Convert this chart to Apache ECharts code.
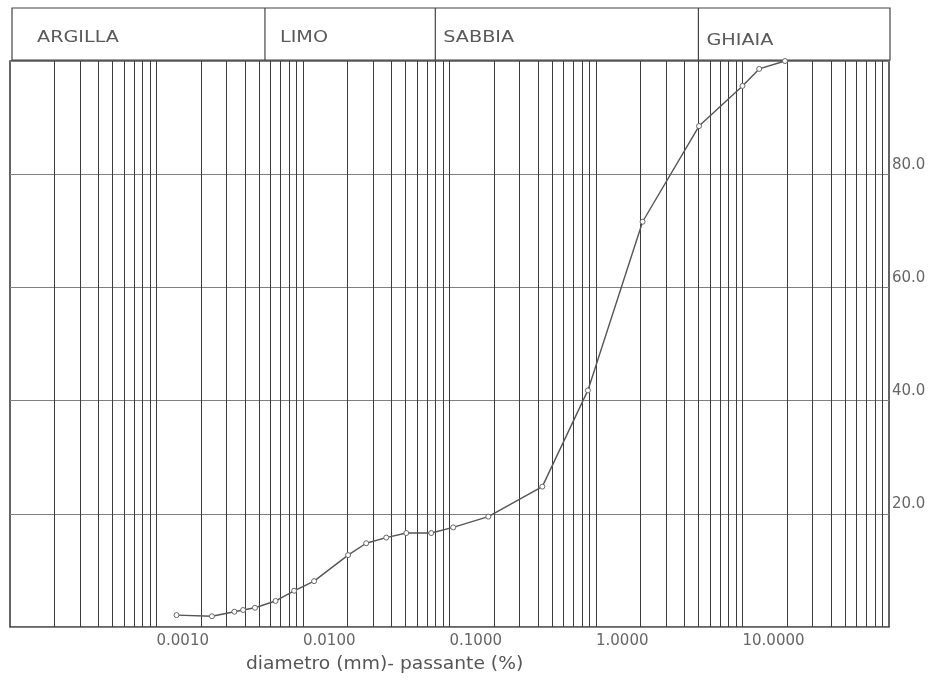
<!DOCTYPE html>
<html><head><meta charset="utf-8">
<script src="https://cdn.jsdelivr.net/npm/echarts@6/dist/echarts.min.js"></script>
<style>html,body{margin:0;padding:0;background:#fff}#c{width:931px;height:685px}</style>
</head><body><div id="c"></div>
<script>
// ---- data ----
const diameters = [0.00137, 0.00239, 0.0034, 0.0039, 0.0047, 0.0065, 0.0087, 0.0119, 0.0203, 0.027, 0.037, 0.0507, 0.075, 0.106, 0.184, 0.43, 0.88, 2.08, 5.05, 10.0, 13.0, 19.5];
const passing   = [2.1, 1.9, 2.7, 3.0, 3.4, 4.6, 6.4, 8.1, 12.7, 14.8, 15.8, 16.6, 16.6, 17.6, 19.5, 24.8, 41.8, 71.6, 88.5, 95.6, 98.6, 100];
const xTickValues = [0.001, 0.01, 0.1, 1, 10];
const xTickLabels = ['0.0010', '0.0100', '0.1000', '1.0000', '10.0000'];
const yTickValues = [20, 40, 60, 80];
const zoneNames = ['ARGILLA', 'LIMO', 'SABBIA', 'GHIAIA'];
const zoneBounds = [0.0001, 0.0055, 0.08, 5.0, 100];
const xTitle = 'diametro (mm)- passante (%)';

(function () {
// log grid values (1..9 per decade)
const gridValues = [];
for (let d = -4; d <= 1; d++) for (let k = 1; k <= 9; k++) {
  const v = k * Math.pow(10, d);
  if (v > 0.00011) gridValues.push(v);
}

const FONT = 'DejaVu Sans';
const chart = echarts.init(document.getElementById('c'));
const GRID = {left: 10, right: 42, top: 61, bottom: 58};

chart.setOption({
  animation: false,
  backgroundColor: '#ffffff',
  grid: Object.assign({show: true, borderColor: '#333', borderWidth: 1.5, containLabel: false}, GRID),
  xAxis: {
    type: 'log', logBase: 10, min: 0.0001, max: 100,
    axisLine: {show: false}, axisTick: {show: false}, splitLine: {show: false},
    axisLabel: {
      show: true, align: 'left', margin: 7, color: '#666', fontFamily: FONT, fontSize: 15,
      showMinLabel: false, showMaxLabel: false,
      formatter: function (v) {
        const i = xTickValues.findIndex(t => Math.abs(Math.log10(v) - Math.log10(t)) < 1e-6);
        return i >= 0 ? xTickLabels[i] : '';
      }
    }
  },
  yAxis: {
    type: 'value', min: 0, max: 100, interval: 20, position: 'right',
    axisLine: {show: false}, axisTick: {show: false},
    splitLine: {show: true, lineStyle: {color: '#808080', width: 1}},
    axisLabel: {
      margin: 3, color: '#666', fontFamily: FONT, fontSize: 15, verticalAlign: 'bottom', padding: [0, 0, 2, 0],
      formatter: v => yTickValues.includes(v) ? v.toFixed(1) : ''
    }
  },
  series: [
    {
      type: 'custom', silent: true, z: 1,
      data: gridValues.map(v => [v, 0]),
      encode: {x: 0, y: 1},
      renderItem: function (params, api) {
        const p0 = api.coord([api.value(0), 0]);
        const p1 = api.coord([api.value(0), 100]);
        const x = Math.round(p0[0]) + 0.5;
        return {type: 'line', shape: {x1: x, y1: p0[1], x2: x, y2: p1[1]},
          style: {stroke: '#3c3c3c', lineWidth: 1}};
      }
    },
    {
      type: 'line', z: 5,
      data: diameters.map((d, i) => [d, passing[i]]),
      symbol: 'circle', symbolSize: 5, showSymbol: true,
      lineStyle: {color: '#555', width: 1.4},
      itemStyle: {color: '#fff', borderColor: '#666', borderWidth: 1}
    }
  ]
});

// header boxes and title
const hTop = 8, hBottom = 60;
const gfx = [];
const xs = zoneBounds.map(v => chart.convertToPixel({xAxisIndex: 0}, v));
gfx.push({type: 'rect', shape: {x: xs[0] + 2, y: hTop, width: xs[4] - xs[0] - 1, height: hBottom - hTop},
  style: {fill: 'none', stroke: '#444', lineWidth: 1.2}, silent: true});
for (let i = 1; i < 4; i++) {
  gfx.push({type: 'line', shape: {x1: xs[i], y1: hTop, x2: xs[i], y2: hBottom}, style: {stroke: '#444', lineWidth: 1.2}, silent: true});
}
const textOffsets = [27, 15, 8, 8];
zoneNames.forEach((n, i) => {
  gfx.push({type: 'text', x: xs[i] + textOffsets[i], y: 38 + (i === 3 ? 3 : 0), scaleX: 1.28,
    style: {text: n, font: '15px "' + FONT + '"', fill: '#5a5a5a', verticalAlign: 'middle'}, silent: true});
});
gfx.push({type: 'text', x: 246, y: 665, scaleX: 1.1,
  style: {text: xTitle, font: '17px "' + FONT + '"', fill: '#555', verticalAlign: 'middle'}, silent: true});
chart.setOption({graphic: gfx});
})();
</script>
</body></html>
